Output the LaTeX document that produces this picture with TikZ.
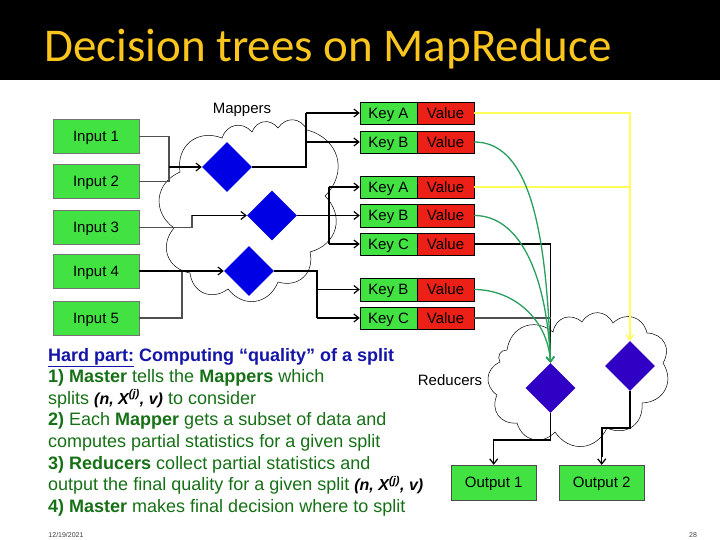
\documentclass[tikz,border=0pt]{standalone}
\usepackage{fontspec}
\setmainfont{Liberation Sans}
\newfontfamily\titlefont{Carlito}
\usetikzlibrary{shapes.geometric,arrows.meta}
\definecolor{ingreen}{RGB}{66,226,66}
\definecolor{valred}{RGB}{236,32,22}
\definecolor{mapblue}{RGB}{0,0,228}
\definecolor{redblue}{RGB}{48,0,196}
\definecolor{ylw}{RGB}{255,255,90}
\definecolor{crvgreen}{RGB}{40,160,92}
\definecolor{titleyellow}{RGB}{250,198,30}
\definecolor{txtgreen}{RGB}{22,112,22}
\definecolor{txtblue}{RGB}{20,20,168}
\definecolor{wire}{RGB}{80,80,80}
\newcommand{\xvar}{{\fontsize{16}{18}\selectfont\bfseries\itshape\color{black}(n, X\textsuperscript{(j)}, v)}}
\begin{document}
\begin{tikzpicture}[x=1pt,y=-1pt,
  lbl/.style={font=\fontsize{15}{18}\selectfont, text=black, inner sep=0pt},
  boxlbl/.style={lbl, text height=10.7pt, text depth=0pt},
  inbox/.style={boxlbl, draw=black!55, fill=ingreen, minimum width=86pt, minimum height=34pt},
  keybox/.style={boxlbl, draw=black, fill=ingreen, minimum width=57pt, minimum height=22.5pt},
  valbox/.style={boxlbl, draw=black, fill=valred, minimum width=57pt, minimum height=22.5pt},
  outbox/.style={boxlbl, draw=black!70, fill=ingreen, minimum width=85pt, minimum height=35pt},
  mapd/.style={diamond, fill=mapblue, minimum width=50pt, minimum height=50pt, inner sep=0pt},
  redd/.style={diamond, fill=redblue, minimum width=50pt, minimum height=50pt, inner sep=0pt},
  cloudline/.style={draw=black, line width=0.5pt, fill=white},
  arr/.style={-{Straight Barb[length=5pt,width=8pt]}},
  wireln/.style={draw=wire, line width=1.4pt},
  blackln/.style={draw=black, line width=1.2pt},
  ylwln/.style={draw=ylw, line width=1.3pt},
  crv/.style={draw=crvgreen, line width=1.3pt},
  body/.style={anchor=base west, inner sep=0pt, font=\fontsize{18}{21}\selectfont, text=txtgreen},
  bumpcw/.style={bend left=60, looseness=1.25},
  bumpccw/.style={bend right=60, looseness=1.25}
]
\useasboundingbox (0,0) rectangle (720,540);
\fill[white] (0,0) rectangle (720,540);
\fill[black] (0,0) rectangle (720,80);
\node[anchor=base west, inner sep=0pt, font=\titlefont\fontsize{47}{50}\selectfont, text=titleyellow] (title) at (44,62) {Decision trees on MapReduce};

% clouds
\path[cloudline] (180,172) to[bumpcw] (222,138) to[bumpcw] (252,132) to[bumpcw] (278,128) to[bumpcw] (307,130)
  to[bumpcw] (325,196) to[bumpcw] (310,252) to[bumpcw] (278,282) to[bumpcw] (228,289) to[bumpcw] (190,273)
  to[bumpcw] (174,228) to[bumpcw] (180,172) -- cycle;
\path[cloudline] (500,362) to[bumpccw] (497,395) to[bumpccw] (517,423) to[bumpccw] (555,432) to[bumpccw] (607,428)
  to[bumpccw] (642,403) to[bumpccw] (663,363) to[bumpccw] (647,333) to[bumpccw] (613,323) to[bumpccw] (582,322)
  to[bumpccw] (553,332) to[bumpccw] (507,350) to[bumpccw] (500,362) -- cycle;

\node[lbl] (mlabel) at (242,110) {Mappers};
\node[lbl] (rlabel) at (450,380) {Reducers};

% inputs
\node[inbox] (in1) at (96,136.5) {Input 1};
\node[inbox] (in2) at (96,181.5) {Input 2};
\node[inbox] (in3) at (96,227.5) {Input 3};
\node[inbox] (in4) at (96,271) {Input 4};
\node[inbox] (in5) at (96,318) {Input 5};

% mappers
\node[mapd] (m1) at (227,167) {};
\node[mapd] (m2) at (272,215.5) {};
\node[mapd] (m3) at (249,271) {};

% key/value
\node[keybox] (ka1) at (388.5,113) {Key A};   \node[valbox] (va1) at (445.5,113) {Value};
\node[keybox] (kb1) at (388.5,142) {Key B};   \node[valbox] (vb1) at (445.5,142) {Value};
\node[keybox] (ka2) at (388.5,187) {Key A};   \node[valbox] (va2) at (445.5,187) {Value};
\node[keybox] (kb2) at (388.5,215.5) {Key B}; \node[valbox] (vb2) at (445.5,215.5) {Value};
\node[keybox] (kc2) at (388.5,244) {Key C};   \node[valbox] (vc2) at (445.5,244) {Value};
\node[keybox] (kb3) at (388.5,289.5) {Key B}; \node[valbox] (vb3) at (445.5,289.5) {Value};
\node[keybox] (kc3) at (388.5,318) {Key C};   \node[valbox] (vc3) at (445.5,318) {Value};

% reducers
\node[redd] (r1) at (550.5,388) {};
\node[redd] (r2) at (630,366) {};

% outputs
\node[outbox] (o1) at (493.7,482.5) {Output 1};
\node[outbox] (o2) at (601.7,482.5) {Output 2};

% junction coordinates
\coordinate (j1) at (169,167);
\coordinate (j3) at (192,215.5);
\coordinate (j4) at (182,271);
\coordinate (v1) at (306,113);
\coordinate (v2) at (329,187);
\coordinate (v3) at (317,271);
\coordinate (h1) at (0,440);
\coordinate (h2) at (0,428);

% input wires
\draw[wireln] (in1.east) -| (j1);
\draw[wireln] (in2.east) -| (j1);
\draw[blackln, arr] (j1) -- (m1.west);
\draw[wireln] (in3.east) -| (j3);
\draw[blackln, arr] (j3) -- (m2.west);
\draw[wireln] (in5.east) -| (j4);
\draw[blackln, arr] (in4.east) -- (m3.west);

% mapper outputs
\draw[blackln] (m1.east) -| (v1);
\draw[blackln, arr] (v1) -- (ka1.west);
\draw[blackln, arr] (kb1.west -| v1) -- (kb1.west);
\draw[blackln, arr] (m2.east) -- (kb2.west);
\draw[blackln] (v2) -- (kc2.west -| v2);
\draw[blackln, arr] (v2) -- (ka2.west);
\draw[blackln, arr] (kc2.west -| v2) -- (kc2.west);
\draw[blackln] (m3.east) -- (v3) -- (kc3.west -| v3);
\draw[blackln, arr] (kb3.west -| v3) -- (kb3.west);
\draw[blackln, arr] (kc3.west -| v3) -- (kc3.west);

% to reducers
\draw[blackln] (vc2.east) -| (r1.north);
\draw[wireln] (vc3.east) -- (vc3.east -| r1.north);
\draw[ylwln] (va2.east) -- (va2.east -| r2.north);
\draw[ylwln, arr] (va1.east) -| (r2.north);
\draw[crv, arr] (vb1.east) .. controls +(50,0) and +(-4,-150) .. (r1.north);
\draw[crv, arr] (vb2.east) .. controls +(45,0) and +(-4,-90) .. (r1.north);
\draw[crv, arr] (vb3.east) .. controls +(38,0) and +(-3,-45) .. (r1.north);

% reducer outputs
\draw[blackln, arr] (r1.south) -- (r1.south |- h1) -| (o1.north);
\draw[draw=black, line width=2pt] (r2.south) -- (r2.south |- h2) -| ([yshift=8pt]o2.north);
\draw[blackln, arr] ([yshift=9pt]o2.north) -- (o2.north);

% body text
\node[body, text=txtblue, font=\fontsize{18}{21}\selectfont\bfseries] (t1) at (48,361) {\underline{Hard part:} Computing “quality” of a split};
\node[body] (t2) at (48,382.6) {\textbf{1) Master} tells the \textbf{Mappers} which};
\node[body] (t3) at (48,404.2) {splits \xvar{} to consider};
\node[body] (t4) at (48,425.8) {\textbf{2)} Each \textbf{Mapper} gets a subset of data and};
\node[body] (t5) at (48,447.4) {computes partial statistics for a given split};
\node[body] (t6) at (48,469) {\textbf{3) Reducers} collect partial statistics and};
\node[body] (t7) at (48,490.6) {output the final quality for a given split \xvar};
\node[body] (t8) at (48,512.2) {\textbf{4) Master} makes final decision where to split};

% footer
\node[font=\fontsize{7}{8}\selectfont, text=black!75, inner sep=0pt] (date) at (66,535) {12/19/2021};
\node[font=\fontsize{7}{8}\selectfont, text=black!75, inner sep=0pt] (page) at (693,535) {28};
\end{tikzpicture}
\end{document}
